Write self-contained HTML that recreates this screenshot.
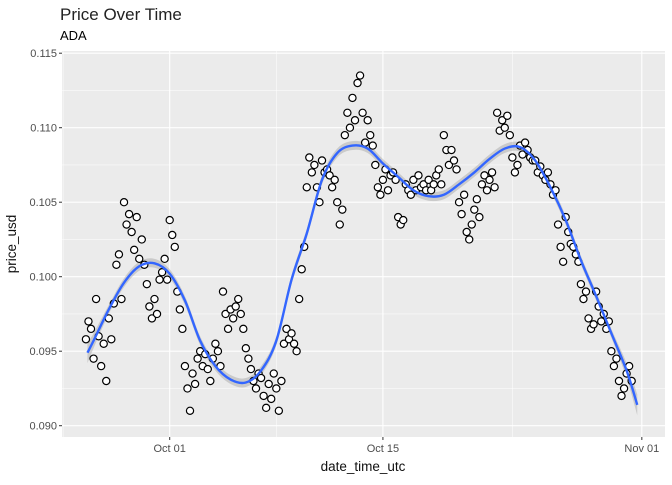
<!DOCTYPE html>
<html><head><meta charset="utf-8"><style>
body{margin:0;background:#fff;}
svg text{font-family:"Liberation Sans",sans-serif;}
</style></head><body>
<svg id="chart" width="672" height="480" viewBox="0 0 672 480" xmlns="http://www.w3.org/2000/svg">
<text x="60" y="20" font-size="17" fill="#222">Price Over Time</text>
<text x="60" y="40" font-size="13" fill="#000">ADA</text>
<rect x="62" y="51" width="603" height="386" fill="#ebebeb"/>
<g id="grid"></g>
<g id="ribbon"></g>
<g id="points"></g>
<g id="smooth"></g>
<g id="axes"></g>
<text x="363" y="471" font-size="13.5" text-anchor="middle" fill="#111">date_time_utc</text>
<text transform="translate(16,244) rotate(-90)" font-size="13.5" text-anchor="middle" fill="#111">price_usd</text>
</svg>
<script>
// days relative to Oct 01 (start of each half-day bin); 3 samples per bin (4-hour spacing)
const binStarts = [-5.5,-5,-4.5,-4,-3.5,-3,-2.5,-2,-1.5,-1,-0.5,0,0.5,1,1.5,2,2.5,3,3.5,4,4.5,5,5.5,6,6.5,7,7.5,8,8.5,9,9.5,10,10.5,11,11.5,12,12.5,13,13.5,14,14.5,15,15.5,16,16.5,17,17.5,18,18.5,19,19.5,20,20.5,21,21.5,22,22.5,23,23.5,24,24.5,25,25.5,26,26.5,27,27.5,28,28.5,29,29.5,30];
const prices = [
.0958,.0970,.0965, .0945,.0985,.0960, .0940,.0955,.0930, .0972,.0958,.0982,
.1008,.1015,.0985, .1050,.1035,.1042, .1030,.1018,.1040, .1012,.1025,.1008,
.0995,.0980,.0972, .0985,.0975,.0998, .1003,.1012,.0998, .1038,.1028,.1020,
.0990,.0978,.0965, .0940,.0925,.0910, .0935,.0928,.0945, .0950,.0940,.0948,
.0938,.0930,.0945, .0955,.0950,.0940, .0990,.0975,.0965, .0978,.0972,.0980,
.0985,.0975,.0965, .0952,.0945,.0938, .0930,.0925,.0935, .0932,.0920,.0912,
.0928,.0918,.0935, .0925,.0910,.0930, .0955,.0965,.0958, .0962,.0955,.0950,
.0985,.1005,.1020, .1060,.1080,.1070, .1075,.1060,.1050, .1078,.1070,.1072,
.1068,.1060,.1065, .1050,.1035,.1045, .1095,.1110,.1100, .1120,.1105,.1130,
.1135,.1110,.1090, .1105,.1095,.1088, .1075,.1060,.1055, .1065,.1072,.1058,
.1068,.1070,.1065, .1040,.1035,.1038, .1062,.1058,.1055, .1065,.1058,.1068,
.1060,.1062,.1058, .1065,.1058,.1062, .1068,.1072,.1062, .1095,.1085,.1075,
.1085,.1078,.1072, .1050,.1042,.1055, .1030,.1025,.1035, .1045,.1052,.1040,
.1062,.1068,.1058, .1065,.1070,.1060, .1110,.1098,.1105, .1100,.1108,.1095,
.1080,.1070,.1075, .1088,.1082,.1090, .1085,.1080,.1078, .1078,.1070,.1074,
.1068,.1065,.1070, .1062,.1055,.1058, .1035,.1020,.1010, .1040,.1030,.1022,
.1020,.1015,.1010, .0995,.0985,.0990, .0972,.0965,.0968, .0990,.0980,.0970,
.0975,.0965,.0970, .0950,.0940,.0945, .0930,.0920,.0925, .0935,.0940,.0930];
const smoothDays = [-5.4,-5,-4,-3,-2,-1,0,1,2,3,4,5,6,7,8,9,10,11,12,13,14,15,16,17,18,19,20,21,22,23,24,25,26,27,28,29,30,30.7];
const smoothVals = [.0949,.0957,.0978,.0996,.1007,.1009,.1002,.0984,.0957,.0940,.0931,.0929,.0937,.0957,.0998,.1029,.1065,.1083,.1088,.1086,.1076,.1067,.1058,.1054,.1055,.1062,.1070,.1079,.1086,.1087,.1078,.1060,.1038,.1011,.0987,.0962,.0937,.0914];
const smoothSE = [.0007,.0005,.0003,.0003,.0003,.0003,.0003,.0003,.0003,.0003,.0003,.0003,.0003,.0003,.0003,.0003,.0003,.0003,.0003,.0003,.0003,.0003,.0003,.0003,.0003,.0003,.0003,.0003,.0003,.0003,.0003,.0003,.0003,.0003,.0003,.0003,.0005,.0007];
const yTicks = [0.090,0.095,0.100,0.105,0.110,0.115];
const yTickLabels = ["0.090","0.095","0.100","0.105","0.110","0.115"];
const xTicks = [0,14,31];
const xTickLabels = ["Oct 01","Oct 15","Nov 01"];

const NS="http://www.w3.org/2000/svg";
const X = d => 169.7 + 15.23*d;
const Y = v => 276.7 - (v-0.100)*14900;
function mk(tag,parent){const e=document.createElementNS(NS,tag);parent.appendChild(e);return e;}

const grid=document.getElementById('grid');
yTicks.forEach((t,i)=>{
  const l=mk('line',grid);
  
  
  l.setAttribute('x1',62);l.setAttribute('x2',665);l.setAttribute('y1',Y(t));l.setAttribute('y2',Y(t));
  l.setAttribute('stroke','#fff');l.setAttribute('stroke-width',1.1);
  if(i<yTicks.length-1){
    const m=mk('line',grid);
    
    
    const mv=(t+yTicks[i+1])/2;
    m.setAttribute('x1',62);m.setAttribute('x2',665);m.setAttribute('y1',Y(mv));m.setAttribute('y2',Y(mv));
    m.setAttribute('stroke','#fff');m.setAttribute('stroke-width',0.5);
  }
});
const xMinor=[-7,7,22.5];
xMinor.forEach(d=>{
  const m=mk('line',grid);
  
  
  m.setAttribute('x1',X(d));m.setAttribute('x2',X(d));m.setAttribute('y1',51);m.setAttribute('y2',437);
  m.setAttribute('stroke','#fff');m.setAttribute('stroke-width',0.5);
});
xTicks.forEach(d=>{
  const l=mk('line',grid);
  
  
  l.setAttribute('x1',X(d));l.setAttribute('x2',X(d));l.setAttribute('y1',51);l.setAttribute('y2',437);
  l.setAttribute('stroke','#fff');l.setAttribute('stroke-width',1.1);
});

function smoothPath(pts){
  let d=`M${pts[0][0]},${pts[0][1]}`;
  for(let i=0;i<pts.length-1;i++){
    const p0=pts[i-1]||pts[i],p1=pts[i],p2=pts[i+1],p3=pts[i+2]||p2;
    const c1=[p1[0]+(p2[0]-p0[0])/6,p1[1]+(p2[1]-p0[1])/6];
    const c2=[p2[0]-(p3[0]-p1[0])/6,p2[1]-(p3[1]-p1[1])/6];
    d+=` C${c1[0]},${c1[1]} ${c2[0]},${c2[1]} ${p2[0]},${p2[1]}`;
  }
  return d;
}
const up=smoothDays.map((d,i)=>[X(d),Y(smoothVals[i]+smoothSE[i])]);
const lo=smoothDays.map((d,i)=>[X(d),Y(smoothVals[i]-smoothSE[i])]).reverse();
const rb=mk('path',document.getElementById('ribbon'));


rb.setAttribute('d',smoothPath(up)+' L'+smoothPath(lo).slice(1)+' Z');
rb.setAttribute('fill','#999');rb.setAttribute('fill-opacity','0.4');

const pg=document.getElementById('points');
let k=0;
binStarts.forEach(b=>{
  for(let j=0;j<3;j++){
    const v=prices[k++]; if(v===undefined) return;
    const c=mk('circle',pg);
    
    
    c.setAttribute('cx',X(b+j/6));c.setAttribute('cy',Y(v));c.setAttribute('r',3.6);
    c.setAttribute('fill','#fff');c.setAttribute('stroke','#000');c.setAttribute('stroke-width',1.2);
  }
});

const sl=mk('path',document.getElementById('smooth'));


sl.setAttribute('d',smoothPath(smoothDays.map((d,i)=>[X(d),Y(smoothVals[i])])));
sl.setAttribute('fill','none');sl.setAttribute('stroke','#3366ff');sl.setAttribute('stroke-width',2.4);

const ax=document.getElementById('axes');
yTicks.forEach((t,i)=>{
  const l=mk('line',ax);
  
  
  l.setAttribute('x1',59);l.setAttribute('x2',62);l.setAttribute('y1',Y(t));l.setAttribute('y2',Y(t));
  l.setAttribute('stroke','#333');
  const tx=mk('text',ax);
  
  
  tx.setAttribute('x',57);tx.setAttribute('y',Y(t)+4);tx.setAttribute('text-anchor','end');
  tx.setAttribute('font-size','11');tx.setAttribute('fill','#4d4d4d');
  tx.textContent=yTickLabels[i];
});
xTicks.forEach((d,i)=>{
  const l=mk('line',ax);
  
  
  l.setAttribute('x1',X(d));l.setAttribute('x2',X(d));l.setAttribute('y1',437);l.setAttribute('y2',440);
  l.setAttribute('stroke','#333');
  const tx=mk('text',ax);
  
  
  tx.setAttribute('x',X(d));tx.setAttribute('y',452);tx.setAttribute('text-anchor','middle');
  tx.setAttribute('font-size','11');tx.setAttribute('fill','#4d4d4d');
  tx.textContent=xTickLabels[i];
});
</script>
</body></html>
